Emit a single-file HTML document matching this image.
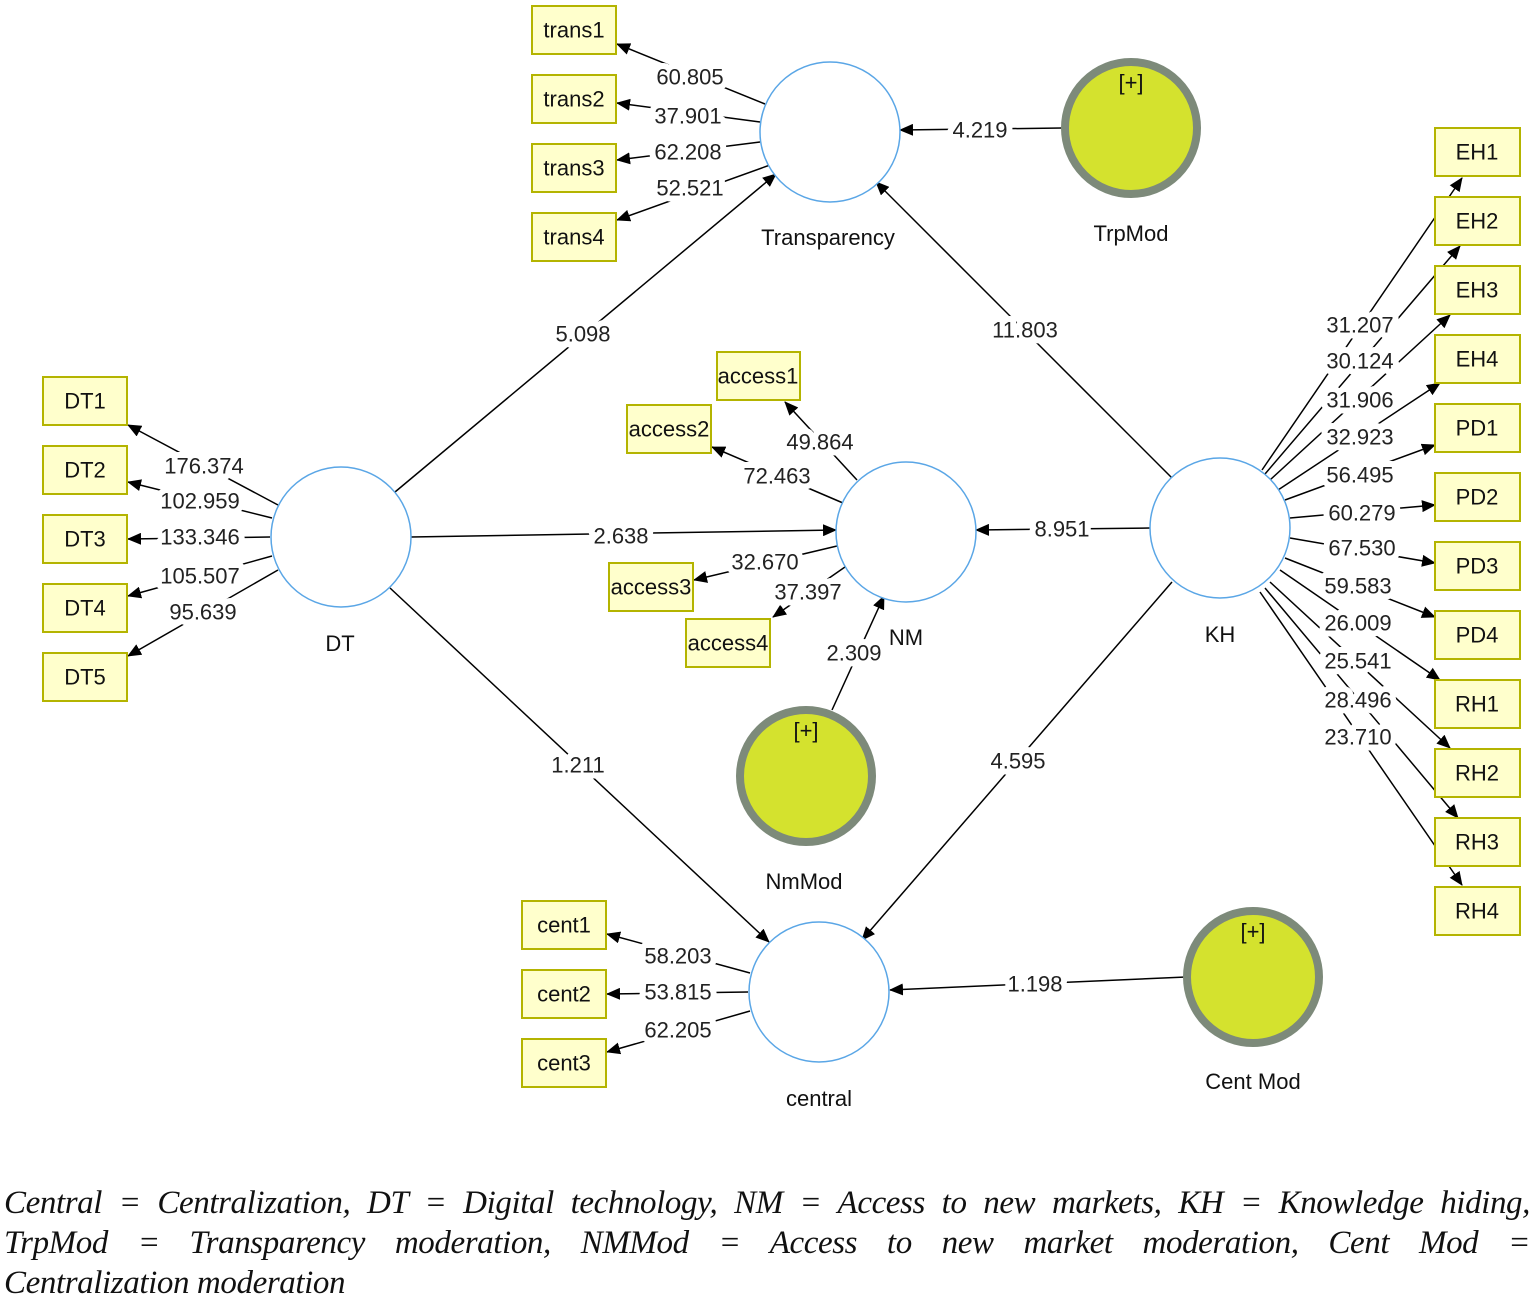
<!DOCTYPE html><html><head><style>
body{margin:0;background:#fff;width:1535px;height:1298px;overflow:hidden;position:relative}
svg{position:absolute;left:0;top:0}
.cap{position:absolute;left:4px;top:1183px;width:1526px;font:italic 33px/40px "Liberation Serif",serif;letter-spacing:-0.4px;color:#111}
.cap div{text-align:justify;text-align-last:justify;white-space:nowrap}
.cap div.l{text-align-last:left}
</style></head><body>
<svg width="1535" height="1298" font-family="Liberation Sans, sans-serif">
<defs><marker id="a" markerWidth="14" markerHeight="12" refX="13" refY="6" orient="auto" markerUnits="userSpaceOnUse"><path d="M0,0 L14,6 L0,12 z" fill="#000"/></marker></defs>
<g stroke="#000" stroke-width="1.5" marker-end="url(#a)">
<line x1="765" y1="104" x2="617" y2="44"/><line x1="760" y1="122" x2="617" y2="103"/><line x1="760" y1="142" x2="617" y2="160"/><line x1="770" y1="165" x2="617" y2="220"/>
<line x1="1062" y1="128" x2="900" y2="130"/><line x1="395" y1="492" x2="776" y2="174"/><line x1="1172" y1="478" x2="876" y2="182"/>
<line x1="411" y1="537" x2="836" y2="530"/><line x1="1150" y1="528" x2="976" y2="530"/><line x1="832" y1="710" x2="884" y2="596"/>
<line x1="390" y1="588" x2="769" y2="942"/><line x1="1172" y1="582" x2="862" y2="940"/><line x1="1186" y1="977" x2="890" y2="990"/>
<line x1="857" y1="480" x2="785" y2="402"/><line x1="843" y1="503" x2="712" y2="447"/><line x1="837" y1="546" x2="694" y2="580"/><line x1="845" y1="567" x2="773" y2="617"/>
<line x1="278" y1="505" x2="128" y2="425"/><line x1="272" y1="518" x2="128" y2="482"/><line x1="270" y1="537" x2="128" y2="539"/><line x1="272" y1="556" x2="128" y2="596"/><line x1="278" y1="570" x2="128" y2="656"/>
<line x1="750" y1="973" x2="607" y2="934"/><line x1="748" y1="992" x2="607" y2="994"/><line x1="750" y1="1011" x2="607" y2="1052"/>
<line x1="1262" y1="470" x2="1462" y2="178"/><line x1="1265" y1="474" x2="1460" y2="246"/><line x1="1270" y1="480" x2="1450" y2="315"/><line x1="1278" y1="490" x2="1440" y2="383"/>
<line x1="1285" y1="500" x2="1435" y2="445"/><line x1="1290" y1="518" x2="1435" y2="505"/><line x1="1290" y1="538" x2="1435" y2="563"/><line x1="1285" y1="558" x2="1435" y2="617"/>
<line x1="1280" y1="570" x2="1440" y2="680"/><line x1="1270" y1="582" x2="1450" y2="748"/><line x1="1265" y1="588" x2="1458" y2="818"/><line x1="1260" y1="592" x2="1462" y2="885"/>
</g>
<g font-size="22" fill="#222" text-anchor="middle" dominant-baseline="central" stroke="#fff" stroke-width="12" stroke-linejoin="round" paint-order="stroke">
<text x="690" y="77">60.805</text><text x="688" y="116">37.901</text><text x="688" y="152">62.208</text><text x="690" y="188">52.521</text>
<text x="980" y="130">4.219</text><text x="583" y="334">5.098</text><text x="1025" y="330">11.803</text>
<text x="621" y="536">2.638</text><text x="1062" y="529">8.951</text><text x="854" y="653">2.309</text>
<text x="578" y="765">1.211</text><text x="1018" y="761">4.595</text><text x="1035" y="984">1.198</text>
<text x="820" y="442">49.864</text><text x="777" y="476">72.463</text><text x="765" y="562">32.670</text><text x="808" y="592">37.397</text>
<text x="204" y="466">176.374</text><text x="200" y="501">102.959</text><text x="200" y="537">133.346</text><text x="200" y="576">105.507</text><text x="203" y="612">95.639</text>
<text x="678" y="956">58.203</text><text x="678" y="992">53.815</text><text x="678" y="1030">62.205</text>
<text x="1360" y="325">31.207</text><text x="1360" y="361">30.124</text><text x="1360" y="400">31.906</text><text x="1360" y="437">32.923</text>
<text x="1360" y="475">56.495</text><text x="1362" y="513">60.279</text><text x="1362" y="548">67.530</text><text x="1358" y="586">59.583</text>
<text x="1358" y="623">26.009</text><text x="1358" y="661">25.541</text><text x="1358" y="700">28.496</text><text x="1358" y="737">23.710</text>
</g>
<g fill="#fff" stroke="#5aa6e6" stroke-width="1.5">
<circle cx="830" cy="132" r="70"/><circle cx="341" cy="537" r="70"/><circle cx="906" cy="532" r="70"/><circle cx="1220" cy="528" r="70"/><circle cx="819" cy="992" r="70"/>
</g>
<g fill="#d4e22e" stroke="#7d8a7a" stroke-width="8">
<circle cx="1131" cy="128" r="66"/><circle cx="806" cy="776" r="66"/><circle cx="1253" cy="977" r="66"/>
</g>
<g font-size="22" fill="#111" text-anchor="middle">
<text x="1131" y="90">[+]</text><text x="806" y="738">[+]</text><text x="1253" y="939">[+]</text>
<text x="828" y="245">Transparency</text><text x="1131" y="241">TrpMod</text><text x="340" y="651">DT</text><text x="906" y="645">NM</text><text x="1220" y="642">KH</text>
<text x="819" y="1106">central</text><text x="804" y="889">NmMod</text><text x="1253" y="1089">Cent Mod</text>
</g>
<g fill="#ffffcc" stroke="#b4b400" stroke-width="2">
<rect x="532" y="6" width="84" height="48"/><rect x="532" y="75" width="84" height="48"/><rect x="532" y="144" width="84" height="48"/><rect x="532" y="213" width="84" height="48"/>
<rect x="43" y="377" width="84" height="48"/><rect x="43" y="446" width="84" height="48"/><rect x="43" y="515" width="84" height="48"/><rect x="43" y="584" width="84" height="48"/><rect x="43" y="653" width="84" height="48"/>
<rect x="717" y="352" width="83" height="48"/><rect x="627" y="405" width="84" height="48"/><rect x="609" y="563" width="84" height="48"/><rect x="686" y="619" width="84" height="48"/>
<rect x="522" y="901" width="84" height="48"/><rect x="522" y="970" width="84" height="48"/><rect x="522" y="1039" width="84" height="48"/>
<rect x="1435" y="128" width="85" height="48"/><rect x="1435" y="197" width="85" height="48"/><rect x="1435" y="266" width="85" height="48"/><rect x="1435" y="335" width="85" height="48"/>
<rect x="1435" y="404" width="85" height="48"/><rect x="1435" y="473" width="85" height="48"/><rect x="1435" y="542" width="85" height="48"/><rect x="1435" y="611" width="85" height="48"/>
<rect x="1435" y="680" width="85" height="48"/><rect x="1435" y="749" width="85" height="48"/><rect x="1435" y="818" width="85" height="48"/><rect x="1435" y="887" width="85" height="48"/>
</g>
<g font-size="22" fill="#111" text-anchor="middle" dominant-baseline="central">
<text x="574" y="30">trans1</text><text x="574" y="99">trans2</text><text x="574" y="168">trans3</text><text x="574" y="237">trans4</text>
<text x="85" y="401">DT1</text><text x="85" y="470">DT2</text><text x="85" y="539">DT3</text><text x="85" y="608">DT4</text><text x="85" y="677">DT5</text>
<text x="758" y="376">access1</text><text x="669" y="429">access2</text><text x="651" y="587">access3</text><text x="728" y="643">access4</text>
<text x="564" y="925">cent1</text><text x="564" y="994">cent2</text><text x="564" y="1063">cent3</text>
<text x="1477" y="152">EH1</text><text x="1477" y="221">EH2</text><text x="1477" y="290">EH3</text><text x="1477" y="359">EH4</text>
<text x="1477" y="428">PD1</text><text x="1477" y="497">PD2</text><text x="1477" y="566">PD3</text><text x="1477" y="635">PD4</text>
<text x="1477" y="704">RH1</text><text x="1477" y="773">RH2</text><text x="1477" y="842">RH3</text><text x="1477" y="911">RH4</text>
</g>
</svg>
<div class="cap">
<div>Central = Centralization, DT = Digital technology, NM = Access to new markets, KH = Knowledge hiding,</div>
<div>TrpMod = Transparency moderation, NMMod = Access to new market moderation, Cent Mod =</div>
<div class="l">Centralization moderation</div>
</div>
</body></html>
